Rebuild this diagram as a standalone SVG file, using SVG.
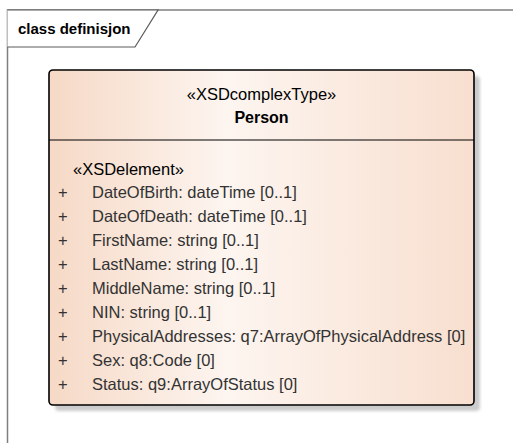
<svg xmlns="http://www.w3.org/2000/svg" width="513" height="443" viewBox="0 0 513 443">
  <defs>
    <linearGradient id="fillGrad" x1="0" y1="0" x2="1" y2="0">
      <stop offset="0" stop-color="#f6d9c6"/>
      <stop offset="0.42" stop-color="#fdf5f0"/>
      <stop offset="1" stop-color="#f8dfcf"/>
    </linearGradient>
    <filter id="shadowBlur" x="-5%" y="-5%" width="110%" height="110%">
      <feGaussianBlur stdDeviation="1.5"/>
    </filter>
    <style>
      .frame { fill: none; stroke: #7f7f7f; stroke-width: 1.5; }
      .tab { fill: #ffffff; stroke: #5a5a5a; stroke-width: 1.2; }
      .title { font-family: "Liberation Sans", Arial, sans-serif; font-size: 15px; font-weight: bold; fill: #000000; }
      .box { fill: url(#fillGrad); stroke: #000000; stroke-width: 1.6; }
      .shadow { fill: #cccccc; filter: url(#shadowBlur); }
      .sep { stroke: #000000; stroke-width: 1.2; }
      .t { font-family: "Liberation Sans", Arial, sans-serif; font-size: 16.5px; fill: #333333; }
      .stereo { font-family: "Liberation Sans", Arial, sans-serif; font-size: 16.5px; fill: #000000; }
      .name { font-family: "Liberation Sans", Arial, sans-serif; font-size: 16px; font-weight: bold; fill: #000000; }
    </style>
  </defs>
  <rect width="513" height="443" fill="#ffffff"/>
  <g id="frame">
    <path class="frame" d="M7.5,443 V10 H513"/>
    <path class="tab" d="M7.5,10 H158 L135,47 H7.5"/>
    <text class="title" x="18" y="34">class definisjon</text>
  </g>
  <g id="connectors"/>
  <g id="Person">
    <rect class="shadow" x="55" y="76" width="425" height="335" rx="4"/>
    <rect class="box" x="49" y="70" width="425" height="335" rx="4"/>
    <line class="sep" x1="49" y1="140" x2="474" y2="140"/>
    <text class="stereo" x="261.5" y="100" text-anchor="middle">«XSDcomplexType»</text>
    <text class="name" x="261.5" y="123" text-anchor="middle">Person</text>
    <text class="stereo" x="73" y="174.5">«XSDelement»</text>
    <g class="t">
      <text x="58" y="198.3">+</text><text x="92" y="198.3">DateOfBirth: dateTime [0..1]</text>
      <text x="58" y="222.2">+</text><text x="92" y="222.2">DateOfDeath: dateTime [0..1]</text>
      <text x="58" y="246.1">+</text><text x="92" y="246.1">FirstName: string [0..1]</text>
      <text x="58" y="270">+</text><text x="92" y="270">LastName: string [0..1]</text>
      <text x="58" y="293.9">+</text><text x="92" y="293.9">MiddleName: string [0..1]</text>
      <text x="58" y="317.8">+</text><text x="92" y="317.8">NIN: string [0..1]</text>
      <text x="58" y="341.7">+</text><text x="92" y="341.7">PhysicalAddresses: q7:ArrayOfPhysicalAddress [0]</text>
      <text x="58" y="365.6">+</text><text x="92" y="365.6">Sex: q8:Code [0]</text>
      <text x="58" y="389.5">+</text><text x="92" y="389.5">Status: q9:ArrayOfStatus [0]</text>
    </g>
  </g>
</svg>
